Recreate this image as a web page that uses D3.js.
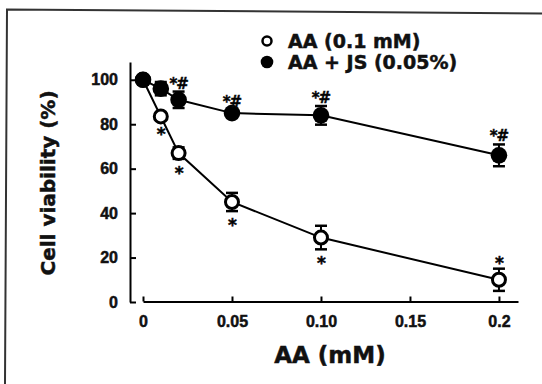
<!DOCTYPE html>
<html>
<head>
<meta charset="utf-8">
<script src="https://cdn.jsdelivr.net/npm/d3@7"></script>
<style>
  html, body { margin: 0; padding: 0; background: #fff; }
  svg { display: block; font-family: "DejaVu Sans", sans-serif; font-weight: bold; }
  svg text { stroke: #111; stroke-width: 0.5px; }
</style>
</head>
<body>
<svg id="chart"></svg>
<script>
// values
const doses = [0, 0.01, 0.02, 0.05, 0.1, 0.2];
const aaMean = [100, 83.5, 67, 45, 29, 10];
const aaErr = [0, 1.5, 2.6, 4.1, 5.3, 5];
const aaMarks = ['', '*', '*', '*', '*', '*'];
const jsMean = [100, 96, 91, 85, 84, 66];
const jsErr = [0, 3, 3.7, 1.5, 4.2, 4.9];
const jsMarks = ['', '', '*#', '*#', '*#', '*#'];
const xTicks = [0, 0.05, 0.1, 0.15, 0.2];
const xTickLabels = ['0', '0.05', '0.10', '0.15', '0.2'];
const yTicks = [0, 20, 40, 60, 80, 100];
const legendLabels = ['AA (0.1 mM)', 'AA + JS (0.05%)'];

const width = 542, height = 384;
const svg = d3.select('#chart').attr('width', width).attr('height', height);

const x = d3.scaleLinear().domain([0, 0.2107]).range([143, 518]);
const y = d3.scaleLinear().domain([0, 108]).range([302, 62]);

// frame of the scanned figure (slightly tilted)
svg.append('path')
  .attr('d', 'M5,384 L7,9.5 L542,13.5')
  .attr('fill', 'none')
  .attr('stroke', '#333')
  .attr('stroke-width', 2);

// axes
const yAxis = svg.append('g')
  .attr('transform', 'translate(130,0)')
  .call(d3.axisLeft(y).tickValues(yTicks).tickSize(-6).tickSizeOuter(0).tickPadding(12));
yAxis.select('.domain').attr('stroke-width', 2);
yAxis.selectAll('.tick line').attr('stroke-width', 2);
yAxis.selectAll('text').style('font-size', '16px').attr('fill', '#111');

const xAxis = svg.append('g')
  .attr('transform', 'translate(0,301.5)')
  .call(d3.axisBottom(x).tickValues(xTicks).tickFormat((d, i) => xTickLabels[i])
    .tickSize(-5).tickSizeOuter(0).tickPadding(14));
xAxis.select('.domain').attr('stroke-width', 2);
xAxis.selectAll('.tick line').attr('stroke-width', 2);
xAxis.selectAll('text').style('font-size', '16px').attr('fill', '#111');

svg.append('text')
  .attr('x', 330).attr('y', 363)
  .attr('text-anchor', 'middle')
  .style('font-size', '23px')
  .attr('fill', '#111')
  .text('AA (mM)');

svg.append('text')
  .attr('transform', 'translate(55,183) rotate(-90)')
  .attr('text-anchor', 'middle')
  .style('font-size', '20px')
  .attr('fill', '#111')
  .text('Cell viability (%)');

// series
const series = [
  { mean: aaMean, err: aaErr, marks: aaMarks, open: true },
  { mean: jsMean, err: jsErr, marks: jsMarks, open: false }
];

const line = d3.line()
  .x(d => x(d.dose))
  .y(d => y(d.mean));

series.forEach(s => {
  const pts = doses.map((dose, i) => ({ dose, mean: s.mean[i], err: s.err[i], mark: s.marks[i] }));
  const g = svg.append('g');

  g.append('path')
    .datum(pts)
    .attr('d', line)
    .attr('fill', 'none')
    .attr('stroke', '#000')
    .attr('stroke-width', 2);

  const eb = g.selectAll('.eb').data(pts.filter(d => d.err > 0)).enter().append('g');
  eb.append('line')
    .attr('x1', d => x(d.dose)).attr('x2', d => x(d.dose))
    .attr('y1', d => y(d.mean - d.err)).attr('y2', d => y(d.mean + d.err))
    .attr('stroke', '#000').attr('stroke-width', 2);
  [-1, 1].forEach(sign => {
    eb.append('line')
      .attr('x1', d => x(d.dose) - 6).attr('x2', d => x(d.dose) + 6)
      .attr('y1', d => y(d.mean + sign * d.err)).attr('y2', d => y(d.mean + sign * d.err))
      .attr('stroke', '#000').attr('stroke-width', 2.5);
  });

  g.selectAll('.pt').data(pts).enter().append('circle')
    .attr('cx', d => x(d.dose))
    .attr('cy', d => y(d.mean))
    .attr('r', s.open ? 6.5 : 8.3)
    .attr('fill', s.open ? '#fff' : '#000')
    .attr('stroke', '#000')
    .attr('stroke-width', s.open ? 3 : 0);

  g.selectAll('.mk').data(pts.filter(d => d.mark)).enter().append('text')
    .attr('x', d => x(d.dose))
    .attr('y', d => {
      const above = !s.open || d.mean < 20;
      const yc = above ? y(d.mean + d.err) - 10 : y(d.mean - d.err) + 10;
      return yc + (d.mark === '*' ? 10 : 7);
    })
    .attr('text-anchor', 'middle')
    .style('font-size', d => d.mark === '*' ? '17px' : '15px')
    .style('letter-spacing', '-1px')
    .attr('fill', '#000')
    .text(d => d.mark);
});

// legend
const legend = svg.append('g');
legendLabels.forEach((label, i) => {
  const ly = 41 + i * 21;
  legend.append('circle')
    .attr('cx', 267).attr('cy', ly)
    .attr('r', i === 0 ? 4.5 : 6.3)
    .attr('fill', i === 0 ? '#fff' : '#000')
    .attr('stroke', '#000')
    .attr('stroke-width', i === 0 ? 2.5 : 0);
  legend.append('text')
    .attr('x', 288).attr('y', ly + 7)
    .style('font-size', '19px')
    .attr('fill', '#111')
    .text(label);
});
</script>
</body>
</html>
